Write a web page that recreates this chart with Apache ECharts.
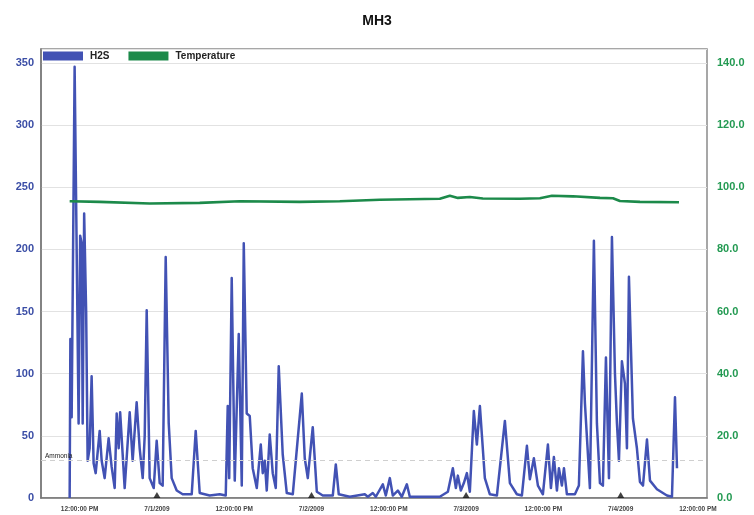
<!DOCTYPE html>
<html>
<head>
<meta charset="utf-8">
<title>MH3</title>
<script src="https://cdn.jsdelivr.net/npm/echarts@6/dist/echarts.min.js"></script>
<style>
  html, body { margin: 0; padding: 0; background: #fff; }
  #chart { width: 754px; height: 515px; }
</style>
</head>
<body>
<div id="chart"></div>
<script>
// Time is in hours counted from 6/30/2009 00:00.
const h2sHours = [
  10.45, 10.56, 10.76, 11.22, 11.84, 12.08, 12.31, 12.47, 12.70, 13.01, 13.24, 13.55, 13.86, 14.17, 14.49,
  15.11, 15.42, 15.88, 16.50, 16.97, 17.44, 17.75, 18.06, 18.29, 18.99, 19.77, 20.23, 20.85, 21.32, 21.79,
  22.10, 22.41, 22.87, 23.50, 23.96, 24.43, 24.89, 25.36, 25.83, 26.29, 27.07, 28.00, 29.40, 30.02, 30.64,
  32.19, 33.75, 34.68, 34.99, 35.22, 35.61, 36.08, 36.70, 37.17, 37.48, 37.94, 38.41, 38.87, 39.50, 40.12,
  40.43, 40.74, 41.05, 41.51, 41.98, 42.45, 42.91, 43.53, 44.16, 45.09, 46.49, 46.95, 47.42, 48.19, 48.82,
  49.75, 51.30, 51.77, 52.23, 53.94, 56.27, 56.74, 57.51, 57.98, 59.07, 59.53, 60.16, 60.62, 61.40, 62.02,
  62.80, 63.26, 64.82, 67.92, 69.17, 69.94, 70.41, 70.72, 71.18, 71.65, 72.12, 72.58, 73.20, 73.67, 74.14,
  74.91, 75.69, 76.78, 78.02, 78.80, 79.88, 80.66, 81.44, 81.90, 82.52, 83.15, 83.92, 84.70, 85.17, 85.63,
  86.10, 86.41, 86.87, 87.19, 87.65, 88.89, 89.51, 90.14, 90.45, 91.22, 91.84, 92.31, 92.78, 93.24, 93.71,
  94.18, 94.64, 95.11, 95.42, 95.73, 96.19, 96.66, 96.97, 97.28, 97.90, 98.52, 98.99, 99.46, 100.08, 100.55,
  101.63, 103.18, 103.96, 104.43, 104.74
];
const h2sValues = [
  0, 128, 65, 347, 60, 211, 205, 60, 229, 150, 30, 40, 98, 28, 20,
  54, 30, 16, 48, 25, 8, 68, 40, 69, 8, 69, 30, 77, 40, 16,
  50, 151, 16, 8, 46, 12, 10, 194, 60, 16, 6, 3, 3, 54, 4,
  2, 3, 2, 74, 16, 177, 14, 132, 10, 205, 68, 66, 24, 8, 43,
  20, 30, 6, 51, 20, 8, 106, 35, 4, 3, 84, 32, 16, 57, 5,
  2, 2, 27, 3, 1, 3, 1, 4, 1, 11, 2, 16, 2, 6, 1,
  11, 1, 1, 1, 5, 24, 8, 18, 6, 12, 20, 5, 70, 43, 74,
  16, 3, 2, 62, 12, 3, 2, 42, 15, 32, 10, 3, 43, 8, 33,
  6, 24, 10, 24, 3, 3, 10, 118, 76, 8, 207, 60, 12, 10, 113,
  16, 210, 100, 60, 30, 110, 92, 40, 178, 64, 40, 13, 10, 47, 14,
  7, 2, 1, 81, 24
];

const tempHours = [
  10.45, 15.11, 22.87, 30.64, 36.85, 46.17, 52.39, 58.60, 67.92, 69.48, 70.72,
  72.58, 74.60, 80.35, 83.46, 85.32, 88.58, 92.78, 94.80, 95.88, 98.99, 105.05
];
const tempValues = [
  95.5, 95.3, 94.8, 95.0, 95.5, 95.3, 95.5, 96.0, 96.3, 97.3, 96.6,
  96.9, 96.4, 96.3, 96.5, 97.3, 97.1, 96.6, 96.5, 95.6, 95.3, 95.2
];

const xTickHours = [12, 24, 36, 48, 60, 72, 84, 96, 108];
const xTickLabels = [
  '12:00:00 PM', '7/1/2009', '12:00:00 PM', '7/2/2009', '12:00:00 PM',
  '7/3/2009', '12:00:00 PM', '7/4/2009', '12:00:00 PM'
];
const dayMarkHours = [24, 48, 72, 96];
const ammoniaLevel = 30;

const zip = (xs, ys) => xs.map((x, i) => [x, ys[i]]);

const chart = echarts.init(document.getElementById('chart'), null, { renderer: 'canvas' });

chart.setOption({
  animation: false,
  backgroundColor: '#ffffff',
  title: {
    text: 'MH3',
    left: 'center',
    top: 9,
    textStyle: { fontFamily: 'Liberation Sans, Arial, sans-serif', fontSize: 14, fontWeight: 'bold', color: '#111' }
  },
  legend: {
    left: 43,
    top: 51,
    padding: 0,
    itemWidth: 40,
    itemHeight: 9,
    itemGap: 19,
    icon: 'rect',
    textStyle: { fontFamily: 'Liberation Sans, Arial, sans-serif', fontSize: 10, fontWeight: 'bold', color: '#222', padding: [0, 0, 0, 2] },
    data: ['H2S', 'Temperature']
  },
  grid: {
    left: 41, right: 47, top: 49, bottom: 17,
    show: true, borderColor: '#8a8a8a', borderWidth: 1.5, backgroundColor: '#fff'
  },
  xAxis: {
    type: 'value',
    min: 6,
    max: 109.4,
    axisLine: { show: true, lineStyle: { color: '#777', width: 1.5 } },
    axisTick: { show: false },
    splitLine: { show: false },
    axisLabel: {
      customValues: xTickHours,
      formatter: (v) => {
        const i = xTickHours.indexOf(v);
        return i >= 0 ? xTickLabels[i] : '';
      },
      fontFamily: 'Liberation Sans, Arial, sans-serif',
      fontSize: 6.5,
      fontWeight: 'bold',
      color: '#444',
      margin: 8
    }
  },
  yAxis: [
    {
      type: 'value',
      min: 0,
      max: 361.3,
      interval: 50,
      axisLine: { show: true, lineStyle: { color: '#777', width: 1.5 } },
      axisTick: { show: false },
      splitLine: { show: true, lineStyle: { color: '#e2e2e2', width: 1.2 } },
      axisLabel: {
        showMaxLabel: false,
        fontFamily: 'Liberation Sans, Arial, sans-serif',
        fontSize: 11,
        fontWeight: 'bold',
        color: '#3b4ea6',
        margin: 7
      }
    },
    {
      type: 'value',
      min: 0,
      max: 144.52,
      interval: 20,
      position: 'right',
      axisLine: { show: false },
      axisTick: { show: false },
      splitLine: { show: false },
      axisLabel: {
        showMaxLabel: false,
        formatter: (v) => v.toFixed(1),
        fontFamily: 'Liberation Sans, Arial, sans-serif',
        fontSize: 11,
        fontWeight: 'bold',
        color: '#239a52',
        margin: 10
      }
    }
  ],
  series: [
    {
      name: 'H2S',
      type: 'line',
      yAxisIndex: 0,
      data: zip(h2sHours, h2sValues),
      showSymbol: false,
      symbol: 'none',
      color: '#4252b4',
      lineStyle: { color: '#4252b4', width: 2.5, join: 'round' },
      z: 3,
      markLine: {
        silent: true,
        symbol: 'none',
        lineStyle: { color: '#cfcfcf', type: [5, 4], width: 1.2 },
        label: {
          show: true,
          position: 'insideStartTop',
          formatter: 'Ammonia',
          fontFamily: 'Liberation Sans, Arial, sans-serif',
          fontSize: 6.5,
          color: '#222',
          distance: [4, 1]
        },
        data: [{ yAxis: ammoniaLevel }]
      }
    },
    {
      name: 'Temperature',
      type: 'line',
      yAxisIndex: 1,
      data: zip(tempHours, tempValues),
      showSymbol: false,
      symbol: 'none',
      color: '#1c8a4a',
      lineStyle: { color: '#1c8a4a', width: 2.6 },
      z: 4
    },
    {
      name: 'Day',
      type: 'scatter',
      yAxisIndex: 0,
      data: dayMarkHours.map((h) => [h, 0]),
      symbol: 'triangle',
      symbolSize: [7, 6],
      symbolOffset: [0, -3],
      itemStyle: { color: '#111' },
      z: 5,
      silent: true
    }
  ]
});
</script>
</body>
</html>
